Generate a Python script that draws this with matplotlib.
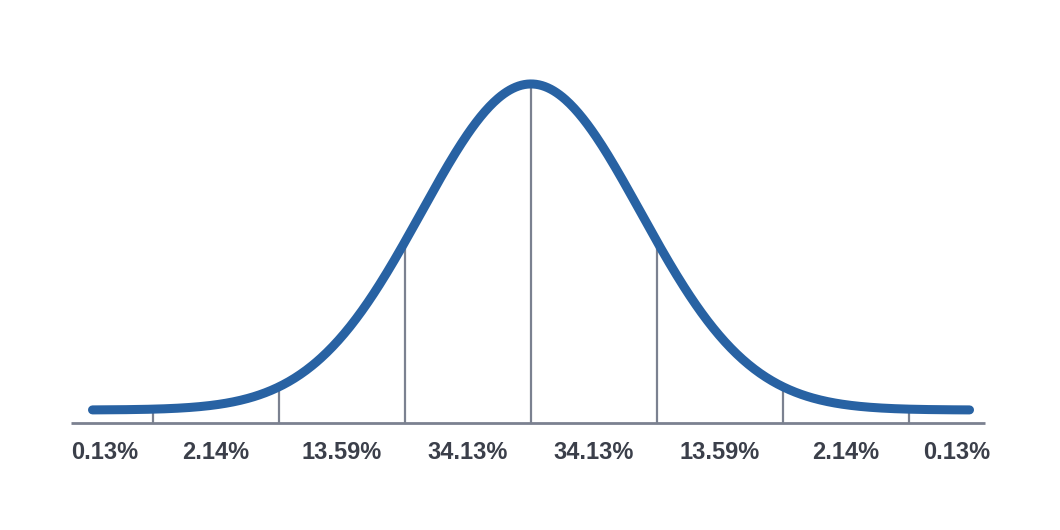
import numpy as np
import matplotlib.pyplot as plt

# sigma marks and the share of the area between them
sigma_marks = [-3, -2, -1, 0, 1, 2, 3]
label_pos = [-3.38, -2.5, -1.5, -0.5, 0.5, 1.5, 2.5, 3.38]
labels = ["0.13%", "2.14%", "13.59%", "34.13%", "34.13%", "13.59%", "2.14%", "0.13%"]

curve_width = 0.87   # bell width relative to mark spacing
curve_lift = 0.04    # tails sit a little above the axis line
x_range = (-3.48, 3.48)

blue = "#2862a3"
grey = "#7b8190"
text_col = "#3b3f4a"


def bell(x):
    return curve_lift + np.exp(-x ** 2 / (2 * curve_width ** 2))


fig = plt.figure(figsize=(10.6, 5.3), dpi=100)
ax = fig.add_axes([0, 0, 1, 1])
ax.set_xlim(-4.214, 4.198)
ax.set_ylim(-0.328, 1.2975)
ax.axis("off")

x = np.linspace(x_range[0], x_range[1], 600)
ax.plot(x, bell(x), color=blue, lw=6.5, solid_capstyle="round", zorder=3)

# vertical sigma lines up to the curve
for m in sigma_marks:
    ax.plot([m, m], [0, bell(m)], color=grey, lw=1.6, zorder=2)

# axis line
ax.plot([-3.65, 3.6], [0, 0], color=grey, lw=2, solid_capstyle="butt", zorder=2)

for p, t in zip(label_pos, labels):
    ax.text(p, -0.09, t, ha="center", va="center", fontsize=17, fontweight="bold",
            family="Liberation Sans", color=text_col)

fig.savefig("out.png", dpi=100, facecolor="white")
